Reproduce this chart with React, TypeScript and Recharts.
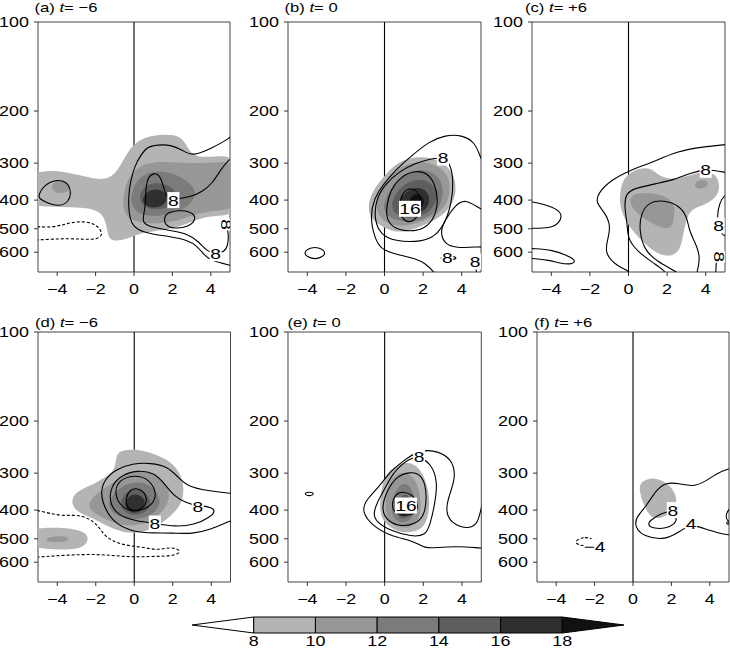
import {
  ComposedChart,
  Scatter,
  XAxis,
  YAxis,
  ReferenceLine,
  ReferenceArea,
} from "recharts";

type XY = number[];
type Tag = { x: number; p: number; t: string };

const FONT = '"Liberation Sans", Arial, Helvetica, sans-serif';
const WIDEN = 1.28; // the source figure is stretched sideways, text too

const xTicks = [-4, -2, 0, 2, 4];
const pTicks = [100, 200, 300, 400, 500, 600];
const cbEdges = [6, 8, 10, 12, 14, 16, 18, 20];
const cbTicks = [8, 10, 12, 14, 16, 18];
const levelColor: Record<number, string> = {
  6: "#ffffff",
  8: "#b4b4b4",
  10: "#979797",
  12: "#7b7b7b",
  14: "#5e5e5e",
  16: "#2f2f2f",
  18: "#111111",
};

// ---------- (a) t = -6 ----------
const aShade8: XY[] = [[-5.6,325],[-4.5,318],[-3.7,320],[-2.8,330],[-2,340],[-1.3,340],[-0.8,315],[-0.4,280],[0,258],[0.6,245],[1.3,240],[2.1,240],[2.6,250],[2.9,275],[3.3,287],[4.2,285],[5.6,282],[5.6,450],[4.3,450],[3.5,460],[2.8,480],[2,500],[1,510],[0.2,520],[-0.3,540],[-0.9,550],[-1.3,545],[-1.4,500],[-1.6,440],[-2.5,423],[-3.5,423],[-4.5,420],[-5.6,420]];
const aShade10a: XY[] = [[-4.4,360],[-4.0,343],[-3.5,345],[-3.25,362],[-3.5,378],[-4.1,380]];
const aShade10: XY[] = [[-0.6,400],[-0.4,345],[0,318],[0.6,300],[1.5,296],[2.5,300],[3.5,300],[4.3,298],[5.6,295],[5.6,432],[4.2,432],[3.3,445],[2.5,465],[1.5,480],[0.6,480],[-0.1,470],[-0.5,445]];
const aShade12: XY[] = [[-0.2,390],[0.1,345],[0.6,325],[1.3,318],[2.1,325],[2.8,345],[3.3,375],[3.0,410],[2.3,440],[1.3,455],[0.4,450],[-0.1,425]];
const aShade14: XY[] = [[0.2,395],[0.5,360],[1.1,348],[1.8,355],[2.3,380],[2.1,415],[1.4,432],[0.6,428]];
const aShade16: XY[] = [[0.35,400],[0.7,372],[1.2,365],[1.7,378],[1.75,405],[1.3,425],[0.7,425]];
const aLoopLeft: XY[] = [[-4.98,385],[-4.69,355],[-4.0,340],[-3.47,347],[-3.26,377],[-3.39,405],[-3.9,421],[-4.5,410],[-4.95,395]];
const aOuter: XY[] = [[5.3,235],[5.0,247],[4.0,268],[3.04,285],[2.52,271],[1.91,260],[1.22,260],[0.69,264],[0.35,282],[0.03,308],[-0.17,342],[-0.3,390],[-0.26,445],[-0.14,479],[0.17,505],[0.87,520],[1.91,532],[2.78,546],[3.3,572],[3.65,613],[4.0,638],[4.51,652],[5.03,665],[5.3,672]];
const aMid: XY[] = [[5.3,285],[5.0,289],[4.51,316],[4.08,351],[3.56,375],[2.95,390],[2.05,400],[1.65,390],[1.5,350],[1.3,328],[1.04,324],[0.73,333],[0.61,365],[0.61,405],[0.52,445],[0.43,475],[0.78,492],[1.74,505],[2.78,518],[3.38,553],[3.82,598],[4.25,605],[4.7,600],[4.9,570],[4.92,520],[4.85,495]];
const aLoopCore: XY[] = [[1.56,455],[1.82,438],[2.52,432],[3.13,443],[3.21,467],[2.86,492],[2.08,501],[1.6,486]];
const aDash: XY[] = [[-5.3,492],[-4.98,492],[-4.17,495],[-3.47,479],[-2.78,471],[-2.08,479],[-1.74,503],[-1.65,525],[-1.91,543],[-2.6,543],[-3.47,539],[-4.34,543],[-5.3,546]];
const aTags: Tag[] = [{ x: 2.05, p: 400, t: "8" }, { x: 4.25, p: 605, t: "8" }];
const aSideTags: Tag[] = [{ x: 4.82, p: 484, t: "8" }];

// ---------- (b) t = 0 ----------
const bShade8: XY[] = [[-0.87,425],[-0.7,380],[-0.19,342],[0.41,308],[1.1,289],[1.95,285],[2.81,292],[3.49,316],[3.75,360],[3.58,410],[2.98,455],[1.95,490],[1.1,512],[0.41,512],[-0.27,486],[-0.7,461]];
const bShade10: XY[] = [[-0.5,420],[-0.3,375],[0.3,330],[1.0,303],[1.9,295],[2.8,305],[3.4,335],[3.4,395],[2.9,440],[2.1,470],[1.2,490],[0.4,488],[-0.2,465]];
const bShade12: XY[] = [[-0.1,420],[0.2,375],[0.7,340],[1.4,318],[2.2,315],[2.9,335],[3.1,380],[2.8,430],[2.2,460],[1.4,475],[0.6,470],[0.1,450]];
const bShade14: XY[] = [[0.3,420],[0.6,375],[1.1,350],[1.8,338],[2.5,350],[2.8,385],[2.5,430],[1.9,455],[1.2,462],[0.6,450]];
const bShade16: XY[] = [[0.7,415],[1.0,380],[1.5,362],[2.1,365],[2.4,395],[2.2,430],[1.7,445],[1.1,443]];
const bShade18: XY[] = [[1.2,405],[1.5,380],[1.9,382],[2.1,405],[1.9,428],[1.5,432]];
const bOuter: XY[] = [[2.7,720],[2.55,699],[2.12,655],[1.61,630],[0.75,613],[-0.19,590],[-0.53,532],[-0.75,455],[-0.53,394],[-0.1,356],[0.58,316],[1.44,282],[2.29,254],[3.15,241],[4.0,241],[4.69,254],[5.0,290],[5.2,310]];
const bC8: XY[] = [[3.03,287],[3.4,300],[3.58,342],[3.49,410],[3.06,492],[2.47,540],[1.61,555],[0.58,550],[-0.19,525],[-0.53,467],[-0.45,400],[-0.02,356],[0.75,320],[1.61,300],[2.38,290]];
const bC12: XY[] = [[0.1,420],[0.3,370],[0.8,335],[1.5,318],[2.2,322],[2.6,350],[2.8,400],[2.6,460],[2.1,500],[1.3,512],[0.5,500],[0.1,465]];
const bC16: XY[] = [[0.75,420],[0.9,380],[1.3,362],[1.8,375],[1.9,420],[1.7,460],[1.3,478],[0.9,465]];
const bRightU: XY[] = [[5.3,432],[5.0,432],[4.18,394],[3.6,420],[3.15,467],[2.89,505],[3.06,560],[3.66,582],[5.0,575],[5.3,575]];
const bSmall: XY[] = [[2.75,628],[3.3,615],[3.9,628],[3.3,642]];
const bTail: XY[] = [[4.72,655],[4.78,720]];
const bLeft: XY[] = [[-4.38,603],[-3.6,567],[-2.85,603],[-3.6,645]];
const bTags: Tag[] = [{ x: 3.03, p: 287, t: "8" }, { x: 1.32, p: 428, t: "16" }, { x: 3.25, p: 625, t: "8" }, { x: 4.69, p: 645, t: "8" }];

// ---------- (c) t = +6 ----------
const cShade8: XY[] = [[-0.31,338],[0.29,315],[1.15,308],[1.58,333],[2.35,342],[3.21,329],[3.9,320],[4.5,324],[4.76,356],[4.59,394],[3.73,421],[3.13,432],[2.87,505],[2.7,590],[2.27,621],[1.49,613],[0.64,546],[-0.05,486],[-0.4,432],[-0.48,390]];
const cShade10a: XY[] = [[0.03,385],[0.81,375],[1.84,385],[2.44,410],[2.35,467],[2.18,505],[1.49,492],[0.64,455],[0.12,421]];
const cShade10b: XY[] = [[3.4,352],[3.7,340],[4.1,343],[4.15,358],[3.8,368],[3.45,363]];
const cOuter: XY[] = [[5.3,258],[5.0,260],[3.9,264],[2.53,273],[1.15,300],[0.12,316],[-0.91,342],[-1.6,380],[-1.68,410],[-1.25,438],[-0.91,486],[-1.08,546],[-1.25,605],[-0.57,672],[0,690],[0.1,720]];
const cC8: XY[] = [[5.3,325],[5.0,322],[4.4,317],[3.99,315],[3.21,324],[2.35,342],[1.49,351],[0.29,365],[-0.14,380],[-0.22,421],[-0.05,486],[-0.05,539],[0.46,597],[1.32,655],[1.84,690],[2.0,720]];
const cInner: XY[] = [[2.6,720],[2.53,699],[1.49,646],[0.81,590],[0.55,505],[0.64,443],[1.07,405],[1.84,400],[2.61,416],[3.04,455],[3.13,505],[3.47,560],[3.73,621],[3.56,699],[3.5,720]];
const cRight: XY[] = [[5.3,380],[5.0,382],[4.7,410],[4.59,455],[4.67,486],[4.8,520],[5.0,530],[5.3,530]];
const cTail: XY[] = [[4.55,640],[4.52,720]];
const cLeftTop: XY[] = [[-5.3,405],[-4.92,405],[-3.92,421],[-3.41,443],[-3.58,480],[-4.1,498],[-4.92,498],[-5.3,498]];
const cLeftBot: XY[] = [[-5.3,583],[-4.92,583],[-3.92,590],[-3.24,613],[-2.72,638],[-2.89,661],[-3.58,654],[-4.1,638],[-4.92,630],[-5.3,630]];
const cTags: Tag[] = [{ x: 4.0, p: 316, t: "8" }, { x: 4.67, p: 487, t: "8" }];
const cSideTags: Tag[] = [{ x: 4.7, p: 622, t: "8" }];

// ---------- (d) t = -6 ----------
const dShade8: XY[] = [[-0.87,252],[0,248],[1.04,257],[2.08,278],[2.57,316],[2.57,370],[2.08,410],[1.22,455],[0.35,478],[-0.52,478],[-1.39,455],[-2.08,427],[-3.04,405],[-3.3,374],[-3.04,347],[-2.26,330],[-1.74,316],[-1.04,297],[-0.95,271]];
const dShade8b: XY[] = [[-5.6,462],[-4.3,458],[-3.3,460],[-2.5,475],[-2.35,505],[-2.7,540],[-3.7,545],[-5.6,540]];
const dShade10b: XY[] = [[-4.6,498],[-4.0,488],[-3.4,492],[-3.4,508],[-4.0,515],[-4.6,510]];
const dShade10: XY[] = [[-2.3,370],[-1.8,345],[-1.0,320],[-0.2,295],[0.8,298],[1.6,318],[1.9,355],[1.6,400],[0.9,435],[0.0,455],[-1.0,445],[-1.8,420],[-2.4,395]];
const dShade12: XY[] = [[-1.4,380],[-1.0,345],[-0.3,322],[0.6,322],[1.2,345],[1.4,380],[1.0,415],[0.2,432],[-0.7,425],[-1.2,405]];
const dShade14: XY[] = [[-0.8,380],[-0.5,350],[0,338],[0.6,345],[0.9,375],[0.7,405],[0.1,418],[-0.5,410]];
const dShade16: XY[] = [[-0.5,380],[-0.3,358],[0.1,352],[0.5,362],[0.6,385],[0.3,405],[-0.1,410],[-0.4,398]];
const dOuter: XY[] = [[5.3,352],[5.0,351],[3.82,344],[2.78,333],[2.26,309],[1.74,285],[0.87,277],[-0.09,278],[-0.95,291],[-1.56,316],[-1.77,351],[-1.5,400],[-1.0,445],[0,475],[1.0,478],[2.0,478],[3.0,482],[4.0,465],[5.0,434],[5.3,430]];
const dC8: XY[] = [[3.3,388],[3.82,388],[4.25,400],[4.0,421],[3.1,450],[2.1,455],[1.09,444],[0,435],[-0.87,415],[-1.3,378],[-1.22,333],[-0.69,305],[0.17,293],[1.04,299],[1.56,325],[2.08,360],[2.69,378]];
const dC12: XY[] = [[-1.04,346],[-0.78,316],[0,304],[0.69,312],[1.13,342],[1.08,375],[0.52,400],[-0.17,405],[-0.78,385]];
const dC16: XY[] = [[-0.43,365],[-0.26,342],[0.17,336],[0.61,351],[0.66,382],[0.31,400],[-0.17,402],[-0.43,385]];
const dDash: XY[] = [[-5.3,400],[-5,400],[-3.8,421],[-2.78,412],[-1.9,445],[-1.56,492],[-0.7,525],[0.35,532],[1.22,548],[1.9,532],[2.43,546],[2.26,571],[0.87,574],[-0.35,577],[-1.74,563],[-3.47,567],[-5,577],[-5.3,577]];
const dTags: Tag[] = [{ x: 3.3, p: 390, t: "8" }, { x: 1.07, p: 444, t: "8" }];

// ---------- (e) t = 0 ----------
const eShade8: XY[] = [[-0.27,400],[-0.15,320],[0.3,290],[1.0,275],[1.6,278],[2.1,310],[2.38,369],[2.2,440],[1.8,470],[1.1,479],[0.4,465],[-0.1,435]];
const eShade10: XY[] = [[0.0,400],[0.1,330],[0.6,300],[1.2,298],[1.7,320],[1.9,380],[1.8,430],[1.4,458],[0.8,460],[0.2,440]];
const eShade12: XY[] = [[0.3,400],[0.5,345],[1.0,320],[1.4,335],[1.6,380],[1.5,425],[1.0,445],[0.5,432]];
const eShade14: XY[] = [[0.6,400],[0.8,360],[1.1,350],[1.4,370],[1.4,410],[1.1,430],[0.7,425]];
const eShade16: XY[] = [[0.7,395],[0.9,370],[1.15,365],[1.3,390],[1.2,415],[0.9,420]];
const eOuter: XY[] = [[5.3,374],[5.0,374],[4.86,460],[3.84,460],[3.15,421],[3.24,369],[3.66,316],[3.58,274],[2.81,252],[1.78,250],[0.92,274],[0.24,298],[-0.27,333],[-0.96,369],[-1.2,405],[-0.6,455],[0.4,492],[1.5,508],[2.1,540],[2.7,535],[3.8,530],[5.0,538],[5.3,538]];
const eC8: XY[] = [[1.78,264],[2.4,278],[2.75,320],[2.6,380],[2.35,450],[2.1,488],[1.4,492],[0.3,470],[-0.45,438],[-0.6,410],[-0.35,372],[0.0,340],[0.4,302],[0.9,280],[1.3,268]];
const eC12: XY[] = [[-0.2,400],[0.1,345],[0.6,308],[1.3,296],[2.0,304],[2.2,360],[2.05,420],[1.6,445],[0.9,455],[0.2,440]];
const eC16: XY[] = [[0.35,385],[0.55,352],[1.0,345],[1.6,360],[1.75,395],[1.5,415],[0.9,418],[0.5,408]];
const eTiny: XY[] = [[-4.2,352],[-3.9,346],[-3.6,352],[-3.9,360]];
const eTags: Tag[] = [{ x: 1.78, p: 264, t: "8" }, { x: 1.1, p: 386, t: "16" }];

// ---------- (f) t = +6 ----------
const fShade8: XY[] = [[0.34,324],[0.86,310],[1.55,316],[2.16,342],[2.33,379],[1.98,410],[1.38,430],[0.86,421],[0.52,379],[0.34,346]];
const fOuter: XY[] = [[5.3,289],[5.0,289],[4.31,302],[3.79,320],[3.1,334],[2.41,325],[1.72,322],[1.2,342],[0.69,389],[0.17,421],[0.09,455],[0.52,492],[1.72,505],[2.41,473],[3.02,446],[3.62,460],[4.48,479],[5.0,486],[5.3,486]];
const fC8: XY[] = [[2.07,400],[1.5,410],[0.9,432],[0.75,450],[1.1,462],[1.7,462],[2.2,445],[2.3,425]];
const fRight: XY[] = [[5.3,390],[5.05,393],[4.85,410],[4.85,430],[5.05,440],[5.3,440]];
const fRing: XY[] = [[4.85,442],[4.95,436],[5.05,442],[4.95,448]];
const fDash: XY[] = [[-3.1,510],[-2.5,490],[-1.95,505],[-2.3,528],[-2.8,528]];
const fTags: Tag[] = [{ x: 2.07, p: 400, t: "8" }, { x: 3.02, p: 446, t: "4" }, { x: -2.0, p: 533, t: "−4" }];

type Shade = { lvl: number; pts: XY[] };
type Iso = { pts: XY[]; closed?: boolean; dashed?: boolean };
type PanelSpec = {
  left: number;
  top: number;
  width: number;
  height: number;
  shades: Shade[];
  lines: Iso[];
  tags: Tag[];
  sideTags: Tag[];
};

const panels: PanelSpec[] = [
  {
    left: 37.5, top: 22, width: 192, height: 250,
    shades: [
      { lvl: 8, pts: aShade8 }, { lvl: 10, pts: aShade10a }, { lvl: 10, pts: aShade10 },
      { lvl: 12, pts: aShade12 }, { lvl: 14, pts: aShade14 }, { lvl: 16, pts: aShade16 },
    ],
    lines: [
      { pts: aLoopLeft, closed: true }, { pts: aOuter }, { pts: aMid },
      { pts: aLoopCore, closed: true }, { pts: aDash, dashed: true },
    ],
    tags: aTags, sideTags: aSideTags,
  },
  {
    left: 288, top: 22, width: 193, height: 250,
    shades: [
      { lvl: 8, pts: bShade8 }, { lvl: 10, pts: bShade10 }, { lvl: 12, pts: bShade12 },
      { lvl: 14, pts: bShade14 }, { lvl: 16, pts: bShade16 }, { lvl: 18, pts: bShade18 },
    ],
    lines: [
      { pts: bOuter }, { pts: bC8, closed: true }, { pts: bC12, closed: true },
      { pts: bC16, closed: true }, { pts: bRightU }, { pts: bSmall, closed: true },
      { pts: bTail }, { pts: bLeft, closed: true },
    ],
    tags: bTags, sideTags: [],
  },
  {
    left: 532, top: 22, width: 193, height: 250,
    shades: [
      { lvl: 8, pts: cShade8 }, { lvl: 10, pts: cShade10a }, { lvl: 10, pts: cShade10b },
    ],
    lines: [
      { pts: cOuter }, { pts: cC8 }, { pts: cInner }, { pts: cRight }, { pts: cTail },
      { pts: cLeftTop }, { pts: cLeftBot },
    ],
    tags: cTags, sideTags: cSideTags,
  },
  {
    left: 37.5, top: 332, width: 192.5, height: 250,
    shades: [
      { lvl: 8, pts: dShade8 }, { lvl: 8, pts: dShade8b }, { lvl: 10, pts: dShade10b },
      { lvl: 10, pts: dShade10 }, { lvl: 12, pts: dShade12 }, { lvl: 14, pts: dShade14 },
      { lvl: 16, pts: dShade16 },
    ],
    lines: [
      { pts: dOuter }, { pts: dC8, closed: true }, { pts: dC12, closed: true },
      { pts: dC16, closed: true }, { pts: dDash, dashed: true },
    ],
    tags: dTags, sideTags: [],
  },
  {
    left: 287.7, top: 332, width: 193.3, height: 250,
    shades: [
      { lvl: 8, pts: eShade8 }, { lvl: 10, pts: eShade10 }, { lvl: 12, pts: eShade12 },
      { lvl: 14, pts: eShade14 }, { lvl: 16, pts: eShade16 },
    ],
    lines: [
      { pts: eOuter }, { pts: eC8, closed: true }, { pts: eC12, closed: true },
      { pts: eC16, closed: true }, { pts: eTiny, closed: true },
    ],
    tags: eTags, sideTags: [],
  },
  {
    left: 536.5, top: 332, width: 192, height: 250,
    shades: [{ lvl: 8, pts: fShade8 }],
    lines: [
      { pts: fOuter }, { pts: fC8, closed: true }, { pts: fRight },
      { pts: fRing, closed: true }, { pts: fDash, closed: true, dashed: true },
    ],
    tags: fTags, sideTags: [],
  },
];

const titles = [
  { tag: "(a)", time: "−6", x: 34.5, base: 12 },
  { tag: "(b)", time: "0", x: 284.5, base: 12 },
  { tag: "(c)", time: "+6", x: 525, base: 12 },
  { tag: "(d)", time: "−6", x: 35, base: 326.5 },
  { tag: "(e)", time: "0", x: 287.5, base: 326.5 },
  { tag: "(f)", time: "+6", x: 534, base: 326.5 },
];

const TOP_PAD = 12;

const toPts = (arr: XY[]) => arr.map(([x, p]) => ({ x, p }));
const noDot = () => <g />;
const fmtX = (v: number) => (v < 0 ? `−${Math.abs(v)}` : `${v}`);

const XTick = (props: any) => {
  const { x, y, payload } = props;
  return (
    <text
      transform={`translate(${x},${y}) scale(${WIDEN},1)`}
      textAnchor="middle"
      dy="0.71em"
      fontSize={14}
      fontFamily={FONT}
      fill="#000"
    >
      {fmtX(payload.value)}
    </text>
  );
};

const YTick = (props: any) => {
  const { x, y, payload } = props;
  return (
    <text
      transform={`translate(${x},${y}) scale(${WIDEN},1)`}
      textAnchor="end"
      dy="0.355em"
      fontSize={14}
      fontFamily={FONT}
      fill="#000"
    >
      {payload.value}
    </text>
  );
};

const TagMark = (props: any, turned: boolean) => {
  const { cx, cy, payload } = props;
  const t: string = payload.t;
  const w = t.length * 10 + 2;
  return (
    <g transform={`translate(${cx},${cy})${turned ? " rotate(90)" : ""}`}>
      <rect x={-w / 2} y={-8} width={w} height={16} fill="#fff" />
      <text
        transform={`scale(${WIDEN},1)`}
        textAnchor="middle"
        dy="0.36em"
        fontSize={15}
        fontFamily={FONT}
        fill="#000"
      >
        {t}
      </text>
    </g>
  );
};

function Panel({ spec }: { spec: PanelSpec }) {
  const { left, top, width, height } = spec;
  return (
    <div style={{ position: "absolute", left: left - 40, top: top - TOP_PAD }}>
      <ComposedChart
        width={width + 44}
        height={height + TOP_PAD + 30}
        margin={{ top: TOP_PAD, right: 4, bottom: 0, left: 0 }}
      >
        <XAxis
          type="number"
          dataKey="x"
          domain={[-5, 5]}
          ticks={xTicks}
          interval={0}
          allowDataOverflow
          height={30}
          tickSize={4}
          tickMargin={8}
          axisLine={false}
          tickLine={{ stroke: "#333" }}
          tick={(p: any) => <XTick {...p} />}
        />
        <YAxis
          type="number"
          dataKey="p"
          scale="log"
          domain={[100, 700]}
          reversed
          allowDataOverflow
          ticks={pTicks}
          interval={0}
          width={40}
          tickSize={4}
          tickMargin={5}
          axisLine={false}
          tickLine={{ stroke: "#333" }}
          tick={(p: any) => <YTick {...p} />}
        />
        {spec.shades.map((s, i) => (
          <Scatter
            key={`s${i}`}
            data={toPts(s.pts)}
            line={{ fill: levelColor[s.lvl], stroke: "none" }}
            lineJointType="basisClosed"
            shape={noDot}
            legendType="none"
            isAnimationActive={false}
          />
        ))}
        {spec.lines.map((l, i) => (
          <Scatter
            key={`l${i}`}
            data={toPts(l.pts)}
            line={{
              stroke: "#000",
              strokeWidth: 1.1,
              fill: "none",
              strokeDasharray: l.dashed ? "3 2" : "none",
            }}
            lineJointType={l.closed ? "basisClosed" : "basis"}
            shape={noDot}
            legendType="none"
            isAnimationActive={false}
          />
        ))}
        <ReferenceLine x={0} stroke="#000" strokeWidth={1.1} />
        <ReferenceArea
          x1={-5}
          x2={5}
          y1={100}
          y2={700}
          fill="none"
          fillOpacity={0}
          stroke="#444"
          strokeWidth={1}
        />
        <Scatter
          data={spec.tags}
          shape={(p: any) => TagMark(p, false)}
          legendType="none"
          isAnimationActive={false}
        />
        <Scatter
          data={spec.sideTags}
          shape={(p: any) => TagMark(p, true)}
          legendType="none"
          isAnimationActive={false}
        />
      </ComposedChart>
    </div>
  );
}

// colour bar: one closed polygon per class, triangles at both ends
const cbShapes = cbEdges.slice(0, -1).map((lo, i) => {
  const hi = cbEdges[i + 1];
  const last = i === cbEdges.length - 2;
  const pts =
    i === 0
      ? [{ x: lo, y: 0.5 }, { x: hi, y: 0 }, { x: hi, y: 1 }]
      : last
      ? [{ x: lo, y: 0 }, { x: hi, y: 0.5 }, { x: lo, y: 1 }]
      : [{ x: lo, y: 0 }, { x: hi, y: 0 }, { x: hi, y: 1 }, { x: lo, y: 1 }];
  return { pts, color: levelColor[lo] };
});

const CbTick = (props: any) => {
  const { x, y, payload } = props;
  return (
    <text
      transform={`translate(${x},${y}) scale(${WIDEN},1)`}
      textAnchor="middle"
      dy="0.71em"
      fontSize={14}
      fontFamily={FONT}
      fill="#000"
    >
      {payload.value}
    </text>
  );
};

function ColorBar() {
  return (
    <div style={{ position: "absolute", left: 190.7, top: 616.3 }}>
      <ComposedChart
        width={435}
        height={42}
        margin={{ top: 1, right: 2, bottom: 0, left: 1 }}
      >
        <XAxis
          type="number"
          dataKey="x"
          domain={[6, 20]}
          ticks={cbTicks}
          interval={0}
          height={25}
          tickSize={0}
          tickMargin={3}
          axisLine={false}
          tickLine={false}
          tick={(p: any) => <CbTick {...p} />}
        />
        <YAxis type="number" dataKey="y" domain={[0, 1]} hide />
        {cbShapes.map((s, i) => (
          <Scatter
            key={`cb${i}`}
            data={s.pts}
            line={{ fill: s.color, stroke: "#000", strokeWidth: 1 }}
            lineJointType="linearClosed"
            shape={noDot}
            legendType="none"
            isAnimationActive={false}
          />
        ))}
      </ComposedChart>
    </div>
  );
}

export default function App() {
  return (
    <div
      style={{
        position: "absolute",
        left: 0,
        top: 0,
        width: 730,
        height: 652,
        background: "#fff",
        overflow: "hidden",
      }}
    >
      {panels.map((spec, i) => (
        <Panel key={i} spec={spec} />
      ))}
      <svg
        width={730}
        height={652}
        style={{ position: "absolute", left: 0, top: 0, pointerEvents: "none" }}
      >
        {titles.map((t) => (
          <text
            key={t.tag}
            transform={`translate(${t.x},${t.base}) scale(${WIDEN},1)`}
            fontSize={13}
            fontFamily={FONT}
            fill="#000"
          >
            {t.tag} <tspan fontStyle="italic">t</tspan>= {t.time}
          </text>
        ))}
      </svg>
      <ColorBar />
    </div>
  );
}
